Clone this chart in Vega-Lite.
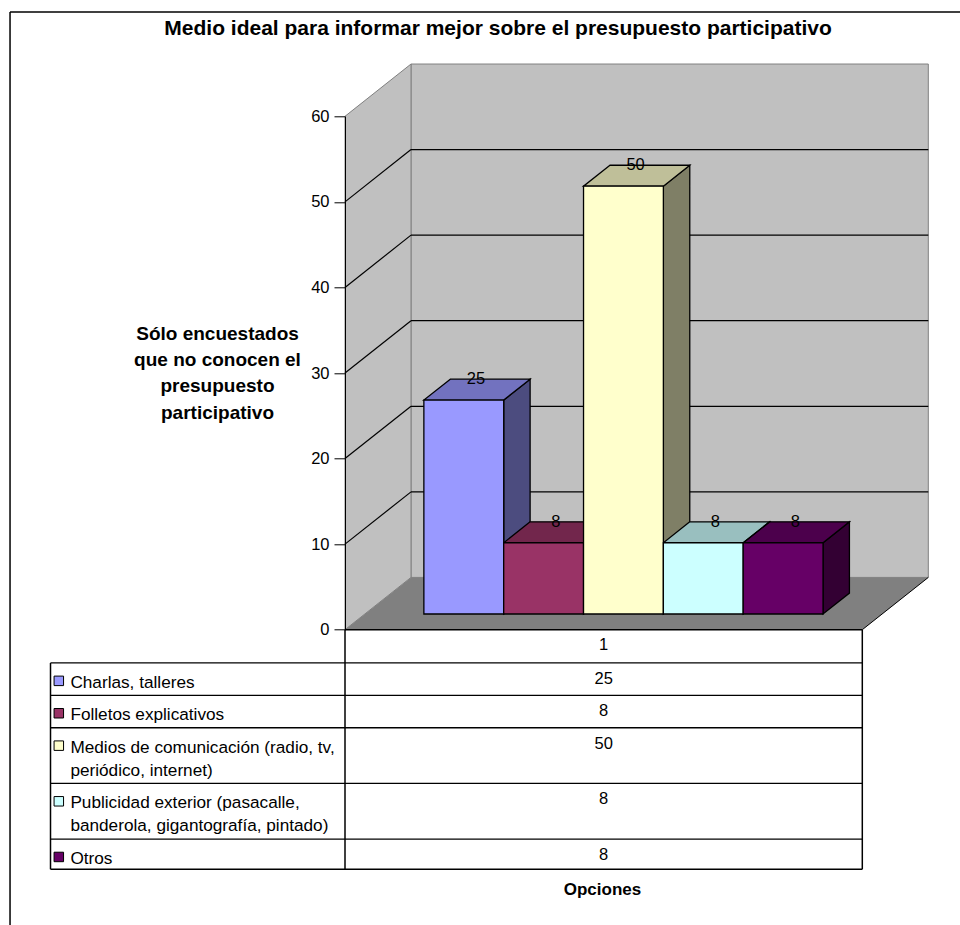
{
"$schema":"https://vega.github.io/schema/vega-lite/v6.json",
"width":517.3,"height":513.4,
"autosize":{"type":"none"},
"padding":{"left":345,"top":116.3,"right":97.7,"bottom":295.3},
"background":"white",
"config":{"font":"Liberation Sans","view":{"stroke":null},"text":{"font":"Liberation Sans","fontSize":16.5,"color":"black"}},
"title":{"text":"Medio ideal para informar mejor sobre el presupuesto participativo","anchor":"middle","frame":"group","dx":-105.6,"offset":-28,"font":"Liberation Sans","fontSize":21,"fontWeight":"bold","color":"black"},
"datasets":{
"opciones":[
{"orden":0,"opcion":"Charlas, talleres","etiqueta":"Charlas, talleres","valor":25,"lineas":1},
{"orden":1,"opcion":"Folletos explicativos","etiqueta":"Folletos explicativos","valor":8.33,"lineas":1},
{"orden":2,"opcion":"Medios de comunicación","etiqueta":"Medios de comunicación (radio, tv,\nperiódico, internet)","valor":50,"lineas":2},
{"orden":3,"opcion":"Publicidad exterior","etiqueta":"Publicidad exterior (pasacalle,\nbanderola, gigantografía, pintado)","valor":8.33,"lineas":2},
{"orden":4,"opcion":"Otros","etiqueta":"Otros","valor":8.33,"lineas":1}
],
"marcas":[{"v":10},{"v":20},{"v":30},{"v":40},{"v":50}],
"extremos":[{"p":0},{"p":1}]
},
"layer":[
{"layer":[
{"data":{"values":[{"pared":"fondo"}]},
 "mark":{"type":"rect","fill":"#C0C0C0","stroke":"#808080","strokeWidth":1},
 "encoding":{
 "x":{"datum":0.0868,"type":"quantitative","scale":{"domain":[-0.74,5.74],"nice":false,"zero":false},"axis":{"title":"Opciones","domain":false,"ticks":false,"labels":false,"grid":false,"titleFont":"Liberation Sans","titleFontSize":17,"titleFontWeight":"bold","titleColor":"black","titleX":257,"titleY":260,"titleBaseline":"middle","titleAlign":"center"}},
 "x2":{"datum":6.5668},
 "y":{"datum":6.11,"type":"quantitative","scale":{"domain":[0,60],"nice":false,"zero":false},"axis":{"title":["Sólo encuestados","que no conocen el","presupuesto","participativo"],"values":[0,10,20,30,40,50,60],"grid":false,"zindex":1,"domainColor":"black","tickColor":"black","tickSize":11,"labelPadding":5,"labelFont":"Liberation Sans","labelFontSize":16.5,"labelColor":"black","titleFont":"Liberation Sans","titleFontSize":19,"titleFontWeight":"bold","titleColor":"black","titleAngle":0,"titleAlign":"center","titleBaseline":"middle","titleLineHeight":26.3,"titleX":-128,"titleY":217}},
 "y2":{"datum":66.11}}},
{"data":{"name":"extremos"},
 "transform":[{"calculate":"-0.74+datum.p*0.8268","as":"x"},{"calculate":"datum.p*6.11","as":"y0"},{"calculate":"60+datum.p*6.11","as":"y1"}],
 "mark":{"type":"area","fill":"#C0C0C0","stroke":"#808080","strokeWidth":1,"orient":"vertical"},
 "encoding":{"x":{"field":"x","type":"quantitative"},"y":{"field":"y0","type":"quantitative"},"y2":{"field":"y1"}}},
{"data":{"name":"extremos"},
 "transform":[{"calculate":"-0.74+datum.p*0.8268","as":"x0"},{"calculate":"5.74+datum.p*0.8268","as":"x1"},{"calculate":"datum.p*6.11","as":"y"}],
 "mark":{"type":"area","fill":"#808080","orient":"horizontal"},
 "encoding":{"y":{"field":"y","type":"quantitative"},"x":{"field":"x0","type":"quantitative"},"x2":{"field":"x1"}}},
{"data":{"values":[{"borde":"derecho"}]},
 "mark":{"type":"rule","color":"black","strokeWidth":1},
 "encoding":{"x":{"datum":5.74,"type":"quantitative"},"x2":{"datum":6.5668},"y":{"datum":0,"type":"quantitative"},"y2":{"datum":6.11}}},
{"data":{"name":"marcas"},
 "transform":[{"calculate":"datum.v+6.11","as":"yf"}],
 "mark":{"type":"rule","color":"black","strokeWidth":1.2},
 "encoding":{"x":{"datum":0.0868,"type":"quantitative"},"x2":{"datum":6.5668},"y":{"field":"yf","type":"quantitative"}}},
{"data":{"name":"marcas"},
 "transform":[{"calculate":"datum.v+6.11","as":"yf"}],
 "mark":{"type":"rule","color":"black","strokeWidth":1.2},
 "encoding":{"x":{"datum":-0.74,"type":"quantitative"},"x2":{"datum":0.0868},"y":{"field":"v","type":"quantitative"},"y2":{"field":"yf"}}},
{"data":{"name":"opciones"},
 "transform":[
 {"calculate":"[0,1]","as":"p"},{"flatten":["p"]},
 {"calculate":"datum.orden+1.248+datum.p*0.3308","as":"sx"},
 {"calculate":"datum.valor+1.833+datum.p*2.444","as":"sy"},
 {"calculate":"1.833+datum.p*2.444","as":"sy0"},
 {"calculate":"datum.orden+0.248+datum.p*0.3308","as":"tx0"},
 {"calculate":"datum.orden+1.248+datum.p*0.3308","as":"tx1"}],
 "layer":[
 {"mark":{"type":"area","orient":"vertical"},
  "encoding":{"x":{"field":"sx","type":"quantitative"},"y":{"field":"sy","type":"quantitative"},"y2":{"field":"sy0"},
  "fill":{"field":"opcion","type":"nominal","legend":null,"sort":null,"scale":{"domain":["Charlas, talleres","Folletos explicativos","Medios de comunicación","Publicidad exterior","Otros"],"range":["#9999FF","#993366","#FFFFCC","#CCFFFF","#660066"]}}}},
 {"mark":{"type":"area","orient":"vertical","fill":"black","fillOpacity":0.5,"stroke":"black","strokeWidth":1.3},
  "encoding":{"x":{"field":"sx","type":"quantitative"},"y":{"field":"sy","type":"quantitative"},"y2":{"field":"sy0"},"detail":{"field":"opcion"}}},
 {"mark":{"type":"area","orient":"horizontal"},
  "encoding":{"y":{"field":"sy","type":"quantitative"},"x":{"field":"tx0","type":"quantitative"},"x2":{"field":"tx1"},"fill":{"field":"opcion","type":"nominal","legend":null}}},
 {"mark":{"type":"area","orient":"horizontal","fill":"black","fillOpacity":0.25,"stroke":"black","strokeWidth":1.3},
  "encoding":{"y":{"field":"sy","type":"quantitative"},"x":{"field":"tx0","type":"quantitative"},"x2":{"field":"tx1"},"detail":{"field":"opcion"}}}
 ]},
{"data":{"name":"opciones"},
 "transform":[{"calculate":"datum.orden+0.248","as":"fx0"},{"calculate":"datum.orden+1.248","as":"fx1"},{"calculate":"datum.valor+1.833","as":"fy1"},{"calculate":"1.833","as":"fy0"},{"calculate":"datum.orden+0.9","as":"lx"},{"calculate":"datum.valor+4.277","as":"ly"}],
 "layer":[
 {"mark":{"type":"rect","stroke":"black","strokeWidth":1.3},
  "encoding":{"x":{"field":"fx0","type":"quantitative"},"x2":{"field":"fx1"},"y":{"field":"fy1","type":"quantitative"},"y2":{"field":"fy0"},"fill":{"field":"opcion","type":"nominal","legend":null}}},
 {"mark":{"type":"text","align":"center","baseline":"middle"},
  "encoding":{"x":{"field":"lx","type":"quantitative"},"y":{"field":"ly","type":"quantitative"},"text":{"field":"valor","type":"quantitative","format":".0f"}}}
 ]}
]},
{"layer":[
{"data":{"values":[{"linea":"v1","x0":-4.429,"y0":1.43,"x1":-4.429,"y1":10.305},{"linea":"v2","x0":-0.74,"y0":0,"x1":-0.74,"y1":10.305},{"linea":"v3","x0":5.74,"y0":0,"x1":5.74,"y1":10.305},{"linea":"h0","x0":-0.74,"y0":0,"x1":5.74,"y1":0},{"linea":"h1","x0":-4.429,"y0":10.305,"x1":5.74,"y1":10.305},{"linea":"marco-izq","x0":-4.936,"y0":-26.57,"x1":-4.936,"y1":14},{"linea":"marco-sup","x0":-4.936,"y0":-26.57,"x1":8,"y1":-26.57}]},
 "mark":{"type":"rule","color":"black","strokeWidth":1.5},
 "encoding":{"x":{"field":"x0","type":"quantitative"},"x2":{"field":"x1"},"y":{"field":"y0","type":"quantitative","axis":null,"scale":{"domain":[0,10.361],"range":[513.4,754.3],"nice":false,"zero":false}},"y2":{"field":"y1"}}},
{"data":{"values":[{"categoria":"1"}]},
 "mark":{"type":"text","align":"center","baseline":"middle"},
 "encoding":{"x":{"datum":2.5,"type":"quantitative"},"y":{"datum":0.66,"type":"quantitative","axis":null},"text":{"field":"categoria"}}},
{"data":{"name":"opciones"},
 "transform":[
 {"calculate":"datum.lineas+0.3935","as":"alto"},
 {"window":[{"op":"sum","field":"alto","as":"fin0"}],"sort":[{"field":"orden"}]},
 {"calculate":"datum.fin0+1.43-datum.alto","as":"inicio"},
 {"calculate":"datum.inicio+0.77","as":"centro"},
 {"calculate":"datum.inicio+0.68","as":"centroValor"}],
 "layer":[
 {"mark":{"type":"rule","color":"black","strokeWidth":1.3},
  "encoding":{"x":{"datum":-4.429,"type":"quantitative"},"x2":{"datum":5.74},"y":{"field":"inicio","type":"quantitative","axis":null}}},
 {"mark":{"type":"point","shape":"square","filled":true,"size":90,"stroke":"black","strokeWidth":1,"opacity":1},
  "encoding":{"x":{"datum":-4.325,"type":"quantitative"},"y":{"field":"centro","type":"quantitative","axis":null},"fill":{"field":"opcion","type":"nominal","legend":null}}},
 {"mark":{"type":"text","align":"left","baseline":"top","dy":11,"fontSize":17.2,"lineBreak":"\n","lineHeight":23},
  "encoding":{"x":{"datum":-4.18,"type":"quantitative"},"y":{"field":"inicio","type":"quantitative","axis":null},"text":{"field":"etiqueta","type":"nominal"}}},
 {"mark":{"type":"text","align":"center","baseline":"middle"},
  "encoding":{"x":{"datum":2.5,"type":"quantitative"},"y":{"field":"centroValor","type":"quantitative","axis":null},"text":{"field":"valor","type":"quantitative","format":".0f"}}}
 ]}
]}
],
"resolve":{"scale":{"y":"independent"}}
}
